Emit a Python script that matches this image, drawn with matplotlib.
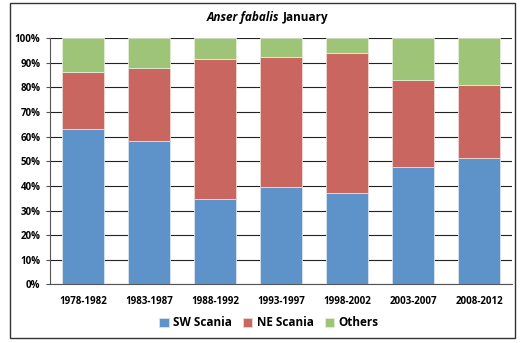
import matplotlib.pyplot as plt
from matplotlib.patches import Rectangle
import numpy as np

periods = ['1978-1982', '1983-1987', '1988-1992', '1993-1997', '1998-2002', '2003-2007', '2008-2012']
sw_scania = [63.0, 58.4, 34.8, 39.4, 37.1, 47.8, 51.3]
ne_scania = [23.2, 29.6, 56.8, 53.0, 56.9, 35.2, 29.5]
others = [13.8, 12.0, 8.4, 7.6, 6.0, 17.0, 19.2]

blue = '#5E93C9'
red = '#C9665F'
green = '#9DC477'

plt.rcParams['font.family'] = ['Open Sans', 'DejaVu Sans']

fig = plt.figure(figsize=(5.25, 3.43), dpi=100)
ax = fig.add_axes([0.0952, 0.1706, 0.88, 0.7184])

x = np.arange(len(periods))
w = 0.65
sw = np.array(sw_scania)
ne = np.array(ne_scania)
ot = np.array(others)

ax.bar(x, sw, w, color=blue, edgecolor='#D8E4F0', linewidth=0.6, label='SW Scania', zorder=3)
ax.bar(x, ne, w, bottom=sw, color=red, edgecolor='#F0D8D6', linewidth=0.6, label='NE Scania', zorder=3)
ax.bar(x, ot, w, bottom=sw + ne, color=green, edgecolor='#E2EED6', linewidth=0.6, label='Others', zorder=3)

ax.set_xlim(-0.5, len(periods) - 0.5)
ax.set_ylim(0, 100)
ax.set_yticks(range(0, 101, 10))
ax.set_yticklabels([f'{v}%' for v in range(0, 101, 10)], fontsize=7, fontweight='bold')
ax.set_xticks(x)
ax.set_xticklabels(periods, fontsize=7, fontweight='bold')
ax.tick_params(axis='x', length=0, pad=8)
ax.tick_params(axis='y', length=3, width=0.8, color='#555555', pad=4)
ax.yaxis.grid(True, color='#222222', linewidth=0.8, zorder=0)
ax.set_axisbelow(True)

for side in ['top', 'right']:
    ax.spines[side].set_visible(False)
for side in ['left', 'bottom']:
    ax.spines[side].set_color('#555555')
    ax.spines[side].set_linewidth(0.8)

# titulo con el nombre en cursiva
fig.text(279 / 525, 1 - 18 / 343, 'Anser fabalis', ha='right', va='center',
         fontsize=8.5, fontweight='bold', style='italic')
fig.text(283 / 525, 1 - 18 / 343, 'January', ha='left', va='center',
         fontsize=8.5, fontweight='bold')

fig.legend(loc='center', bbox_to_anchor=(269 / 525, 1 - 323 / 343), ncol=3,
           frameon=False, prop={'weight': 'bold', 'size': 8.5},
           handlelength=0.8, handleheight=0.8, handletextpad=0.4, columnspacing=0.9)

fig.patches.append(Rectangle((10 / 525, 1 - 338 / 343), 505 / 525, 335 / 343,
                             transform=fig.transFigure, fill=False,
                             edgecolor='#333333', linewidth=1.0))

fig.savefig('out.png', dpi=100)
